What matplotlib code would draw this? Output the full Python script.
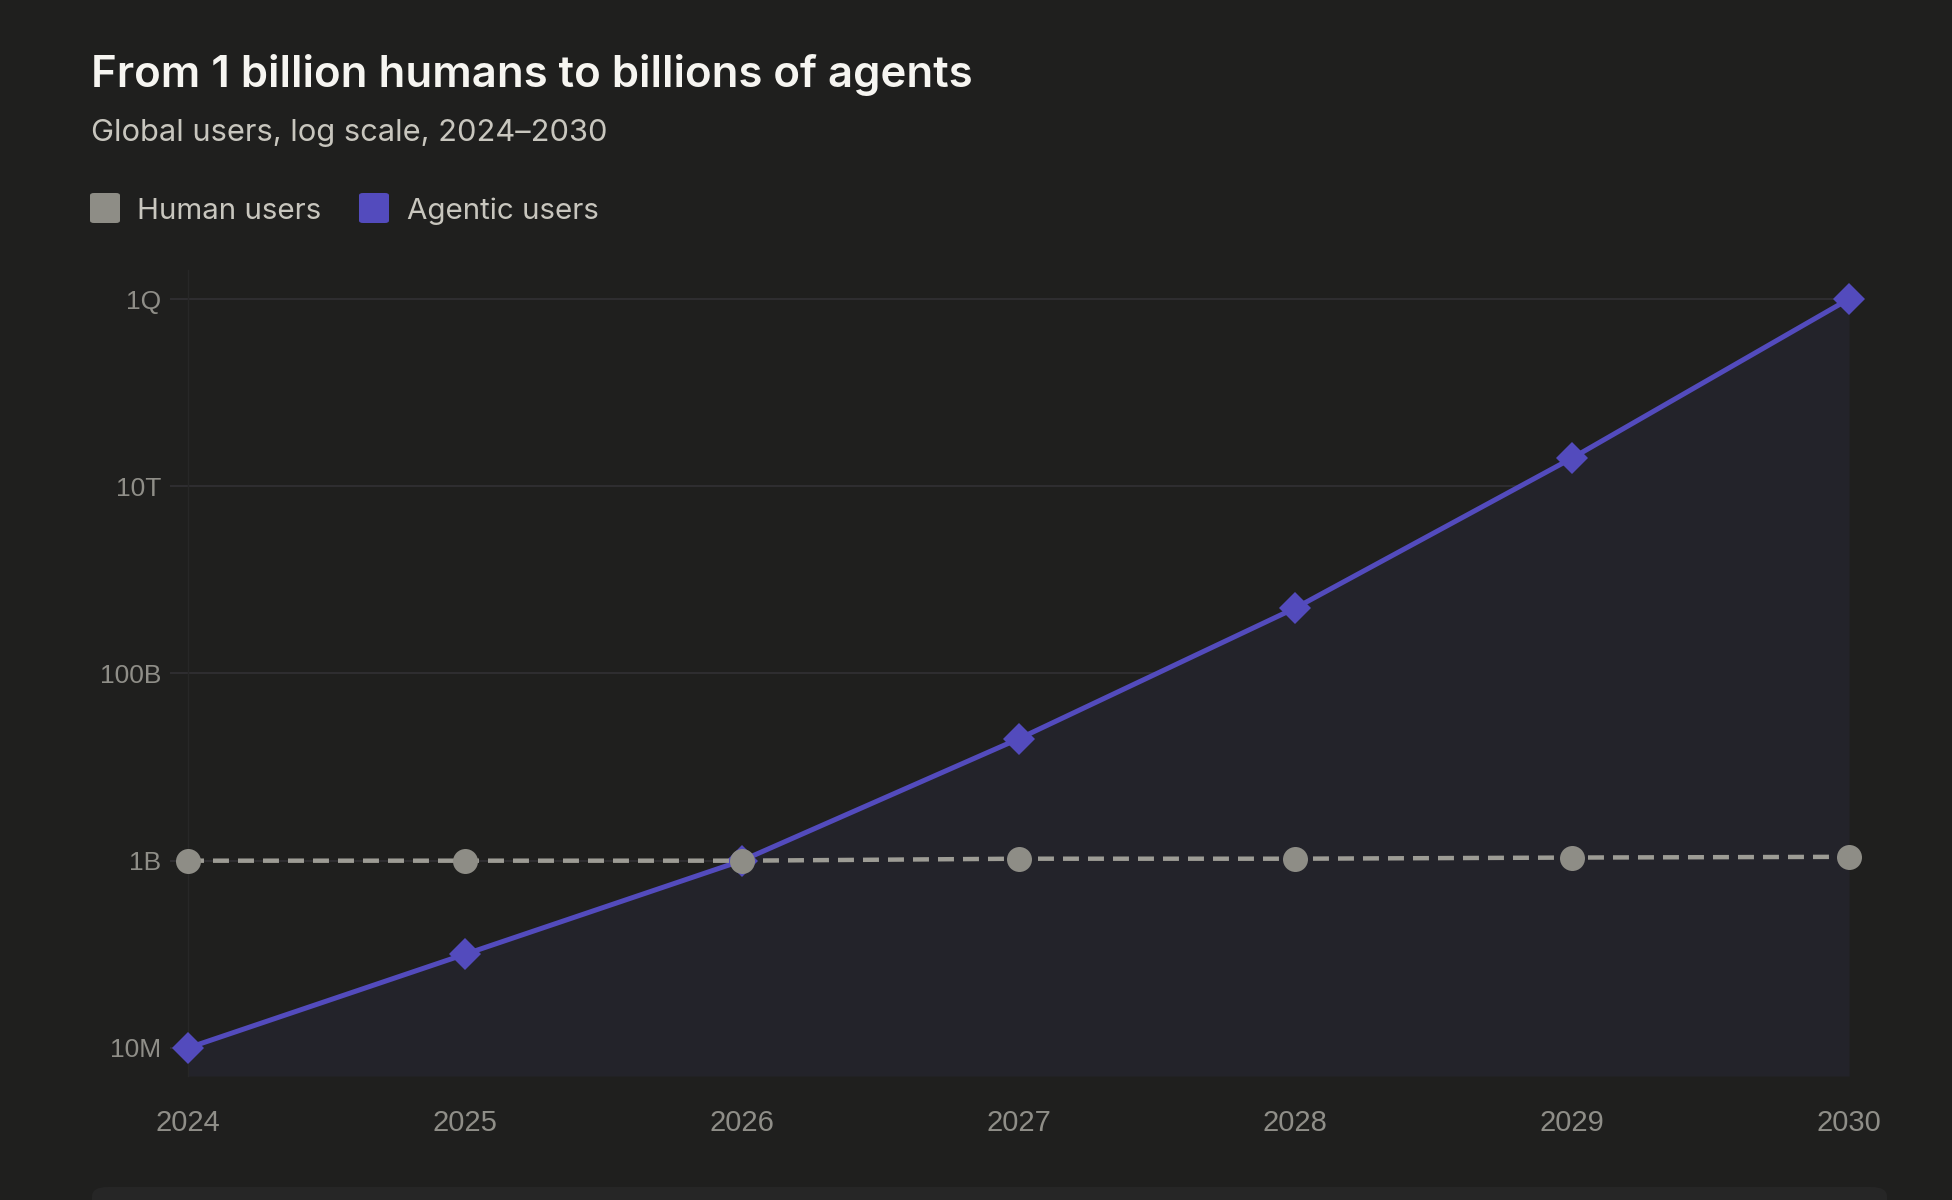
import matplotlib
matplotlib.use("Agg")
import matplotlib.pyplot as plt
from matplotlib.patches import FancyBboxPatch
from matplotlib.ticker import FixedLocator, NullLocator

# data
years = [2024, 2025, 2026, 2027, 2028, 2029, 2030]
human_users = [1.0e9, 1.0e9, 1.0e9, 1.05e9, 1.05e9, 1.08e9, 1.1e9]
agentic_users = [1e7, 1e8, 1e9, 2e10, 5e11, 2e13, 1e15]
y_ticks = [1e7, 1e9, 1e11, 1e13, 1e15]
y_tick_labels = ["10M", "1B", "100B", "10T", "1Q"]

title = "From 1 billion humans to billions of agents"
subtitle = "Global users, log scale, 2024\u20132030"
legend_labels = ["Human users", "Agentic users"]

BG = "#1f1f1e"
GRID = "#2f2e31"
FILL = "#23232a"
PURPLE = "#534bbd"
GRAY_MARK = "#8e8d86"
GRAY_DASH = "#9d9c95"
TICK_TXT = "#8f8e88"
TITLE_TXT = "#f6f5f1"
SUB_TXT = "#c8c6be"

W, H = 1952, 1200
plt.rcParams["lines.scale_dashes"] = False


def fx(px):
    return px / W


def fy(py):
    return 1 - py / H


fig = plt.figure(figsize=(W / 100, H / 100), dpi=100, facecolor=BG)

# bottom card edge
card = FancyBboxPatch((fx(92), fy(1260)), fx(1887) - fx(92), fy(1187) - fy(1260),
                      boxstyle="round,pad=0,rounding_size=0.008",
                      transform=fig.transFigure, facecolor="#262626",
                      edgecolor="none", zorder=0)
fig.patches.append(card)

ax = fig.add_axes([fx(188), fy(1076), fx(1849) - fx(188), fy(270) - fy(1076)])
ax.set_facecolor(BG)
ax.set_yscale("log")
ax.set_xlim(2024, 2030)
ax.set_ylim(10 ** 6.70, 10 ** 15.31)

for s in ["top", "right", "bottom"]:
    ax.spines[s].set_visible(False)
ax.spines["left"].set_color("#272727")
ax.spines["left"].set_linewidth(1.0)

ax.yaxis.set_major_locator(FixedLocator(y_ticks))
ax.yaxis.set_minor_locator(NullLocator())
ax.set_yticklabels(y_tick_labels, fontfamily="Liberation Sans", fontsize=19, color=TICK_TXT)
ax.tick_params(axis="y", length=13, width=1.4, color=GRID, pad=6)
ax.set_xticks(years)
ax.set_xticklabels([str(y) for y in years], fontfamily="Liberation Sans", fontsize=21, color=TICK_TXT)
ax.tick_params(axis="x", length=0, pad=24)
ax.grid(axis="y", color=GRID, linewidth=1.4, zorder=1)
ax.set_axisbelow(True)

ax.fill_between(years, agentic_users, 10 ** 6.70, color=FILL, linewidth=0, zorder=1.5)
ax.plot(years, agentic_users, color=PURPLE, linewidth=3.6, marker="D", markersize=16.5,
        markeredgewidth=0, zorder=3, clip_on=False, solid_joinstyle="round")
ax.plot(years, human_users, color=GRAY_DASH, linewidth=3.2, dashes=(11.5, 6.5), zorder=4,
        clip_on=False)
ax.plot(years, human_users, linestyle="none", marker="o", markersize=18, color=GRAY_MARK,
        markeredgewidth=0, zorder=5, clip_on=False)

# header texts
fig.text(fx(91), fy(87), title, fontfamily="Inter", fontweight="semibold", fontsize=31.5,
         color=TITLE_TXT, va="baseline")
fig.text(fx(91), fy(141), subtitle, fontfamily="Inter", fontsize=22.2, color=SUB_TXT, va="baseline")

# legend
for x0, col, lab, tx in [(90, GRAY_MARK, legend_labels[0], 137), (359, PURPLE, legend_labels[1], 407)]:
    sq = FancyBboxPatch((fx(x0), fy(223)), fx(30), fy(193) - fy(223),
                        boxstyle="round,pad=0,rounding_size=0.002",
                        transform=fig.transFigure, facecolor=col, edgecolor="none")
    fig.patches.append(sq)
    fig.text(fx(tx), fy(219), lab, fontfamily="Inter", fontsize=21.3, color=SUB_TXT, va="baseline")

fig.savefig("out.png", dpi=100, facecolor=BG)
